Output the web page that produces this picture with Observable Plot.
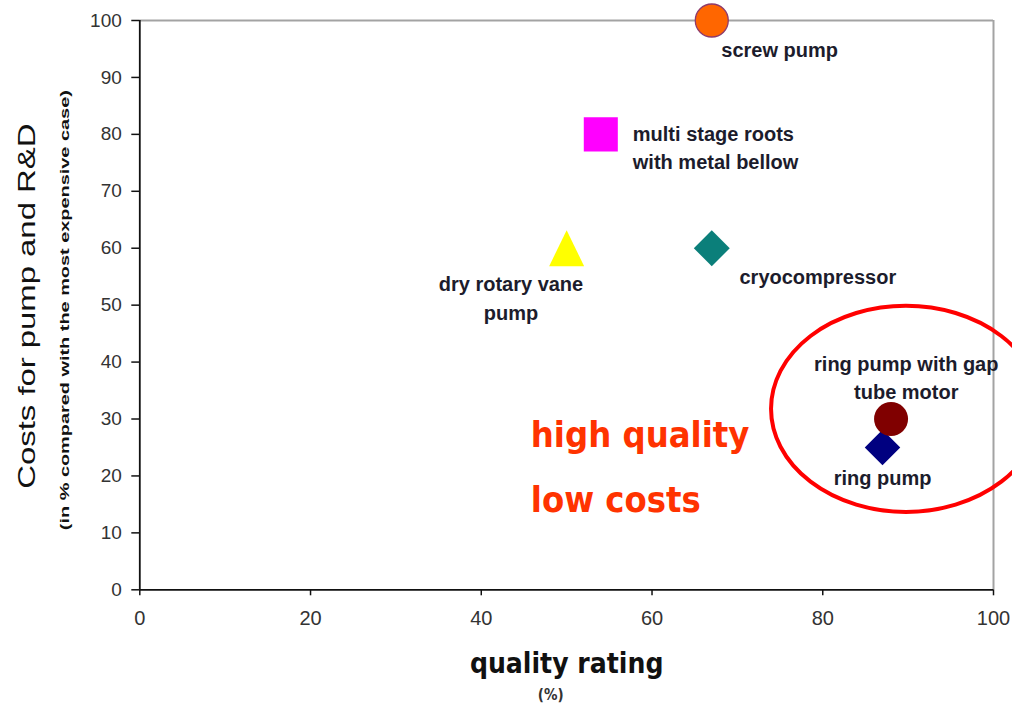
<!DOCTYPE html>
<html>
<head>
<meta charset="utf-8">
<script src="https://cdn.jsdelivr.net/npm/d3@7"></script>
<script src="https://cdn.jsdelivr.net/npm/@observablehq/plot@0.6"></script>
<style>
  html, body { margin: 0; padding: 0; background: #fff; overflow: hidden; }
  #chart svg { display: block; overflow: hidden; }
</style>
</head>
<body>
<div id="chart"></div>
<script>
// Pump concepts: quality rating (%) vs. cost for pump and R&D (% of the most expensive case)
const pumps = [
  "screw pump",
  "multi stage roots\nwith metal bellow",
  "dry rotary vane\npump",
  "cryocompressor",
  "ring pump with gap\ntube motor",
  "ring pump"
];
const qualityRating = [67, 54, 50, 67, 88, 87];
const costShare = [100, 80, 60, 60, 30, 25];

const xTicks = [0, 20, 40, 60, 80, 100];
const yTicks = [0, 10, 20, 30, 40, 50, 60, 70, 80, 90, 100];

const yTitle = "Costs for pump and R&D";
const ySubtitle = "(in % compared with the most expensive case)";
const xTitle = "quality rating";
const xUnit = "(%)";

// Highlight text and the ringed target region (data units)
const highlightText = ["high quality", "low costs"];
const highlightX = [45.8, 45.8];
const highlightY = [27.1, 15.7];
const targetCenter = [89.8, 31.7];
const targetRadii = [15.8, 18.1];

const rows = pumps.map((name, i) => ({name, quality: qualityRating[i], cost: costShare[i]}));
const highlights = highlightText.map((text, i) => ({text, x: highlightX[i], y: highlightY[i]}));

// A slightly taller-than-equilateral triangle marker
const tallTriangle = {
  draw(context, size) {
    const r = Math.sqrt(size / Math.PI);
    context.moveTo(0, -r * 1.06);
    context.lineTo(r * 1.03, r * 1.06);
    context.lineTo(-r * 1.03, r * 1.06);
    context.closePath();
  }
};

const dotStyles = [
  {symbol: "circle", r: 16.5, fill: "#FF6600", stroke: "#8E3B6B", strokeWidth: 1.3},
  {symbol: "square", r: 19.2, fill: "#FF00FF"},
  {symbol: tallTriangle, r: 17, fill: "#FFFF00"},
  {symbol: "diamond2", r: 16.2, fill: "#0B7F7A"},
  {symbol: "circle", r: 17, fill: "#800000"},
  {symbol: "diamond2", r: 16, fill: "#000080"}
];

const labelStyles = [
  {textAnchor: "start", dx: 9.5, dy: 30.3},
  {textAnchor: "start", dx: 32, dy: 12, lineHeight: 1.385},
  {textAnchor: "middle", dx: -55.7, dy: 47.9, lineHeight: 1.47},
  {textAnchor: "start", dx: 27.7, dy: 29.3},
  {textAnchor: "middle", dx: 15.2, dy: -42.7, lineHeight: 1.385},
  {textAnchor: "middle", dx: 0, dy: 31.6}
];

const drawOrder = [0, 1, 2, 3, 5, 4];

const labelFont = {fontSize: 20, fontWeight: "bold", fontFamily: "Liberation Sans, Arial, sans-serif", fill: "#1c1c2c", lineAnchor: "middle"};

const chart = Plot.plot({
  width: 1012,
  height: 708,
  marginLeft: 139.3,
  marginRight: 19,
  marginTop: 20,
  marginBottom: 118.7,
  x: {domain: [0, 100]},
  y: {domain: [0, 100]},
  style: {background: "#fff", fontFamily: "Liberation Sans, Arial, sans-serif", overflow: "hidden"},
  marks: [
    // plot-area border: grey top and right edges
    Plot.ruleY([100], {stroke: "#a3a3a3", strokeWidth: 2}),
    Plot.ruleX([100], {stroke: "#a3a3a3", strokeWidth: 2}),
    Plot.axisY(yTicks, {tickSize: 8, tickPadding: 10, fontSize: 19, fill: "#333", stroke: "#111", strokeWidth: 1.5, label: null}),
    Plot.axisX(xTicks, {tickSize: 6, tickPadding: 15, fontSize: 20, fill: "#333", stroke: "#111", strokeWidth: 1.5, label: null}),
    Plot.ruleX([0], {stroke: "#111", strokeWidth: 1.8}),
    Plot.ruleY([0], {stroke: "#111", strokeWidth: 1.8}),
    ...drawOrder.map(i => Plot.dot([rows[i]], {x: "quality", y: "cost", ...dotStyles[i]})),
    ...drawOrder.map(i => Plot.text([rows[i]], {x: "quality", y: "cost", text: "name", ...labelFont, ...labelStyles[i]})),
    Plot.text(highlights, {
      x: "x", y: "y", text: "text", textAnchor: "start", lineAnchor: "middle",
      fontSize: 36, fontWeight: "bold", fontFamily: "'DejaVu Sans Condensed', 'DejaVu Sans', sans-serif",
      fill: "#FF3300"
    }),
    Plot.text([yTitle], {
      text: d => d, frameAnchor: "left", rotate: -90, dx: -112, dy: 1,
      textAnchor: "middle", lineAnchor: "middle", fontSize: 24, fill: "#111"
    }),
    Plot.text([ySubtitle], {
      text: d => d, frameAnchor: "left", rotate: -90, dx: -75.5, dy: 5,
      textAnchor: "middle", lineAnchor: "middle", fontSize: 13.5, fontWeight: "bold", fill: "#111"
    }),
    Plot.text([xTitle], {
      text: d => d, frameAnchor: "bottom", dy: 74.5, lineAnchor: "middle",
      fontSize: 28, fontWeight: "bold", fontFamily: "'DejaVu Sans Condensed', 'DejaVu Sans', sans-serif", fill: "#111"
    }),
    Plot.text([xUnit], {
      text: d => d, frameAnchor: "bottom", dx: -16, dy: 105, lineAnchor: "middle",
      fontSize: 15, fontWeight: "bold", fontFamily: "'DejaVu Sans Condensed', 'DejaVu Sans', sans-serif", fill: "#333"
    })
  ]
});

// Stretch the rotated axis titles along their length
const svg = d3.select(chart);
svg.selectAll("text").each(function () {
  const t = this.textContent;
  if (t === yTitle) d3.select(this).attr("textLength", 365).attr("lengthAdjust", "spacingAndGlyphs");
  if (t === ySubtitle) d3.select(this).attr("textLength", 440).attr("lengthAdjust", "spacingAndGlyphs");
});

// Red ring around the high-quality / low-cost pumps
const sx = chart.scale("x"), sy = chart.scale("y");
const cx = sx.apply(targetCenter[0]), cy = sy.apply(targetCenter[1]);
svg.append("ellipse")
  .attr("cx", cx)
  .attr("cy", cy)
  .attr("rx", sx.apply(targetCenter[0] + targetRadii[0]) - cx)
  .attr("ry", cy - sy.apply(targetCenter[1] + targetRadii[1]))
  .attr("fill", "none")
  .attr("stroke", "#FF0000")
  .attr("stroke-width", 4);

document.getElementById("chart").appendChild(chart);
</script>
</body>
</html>
